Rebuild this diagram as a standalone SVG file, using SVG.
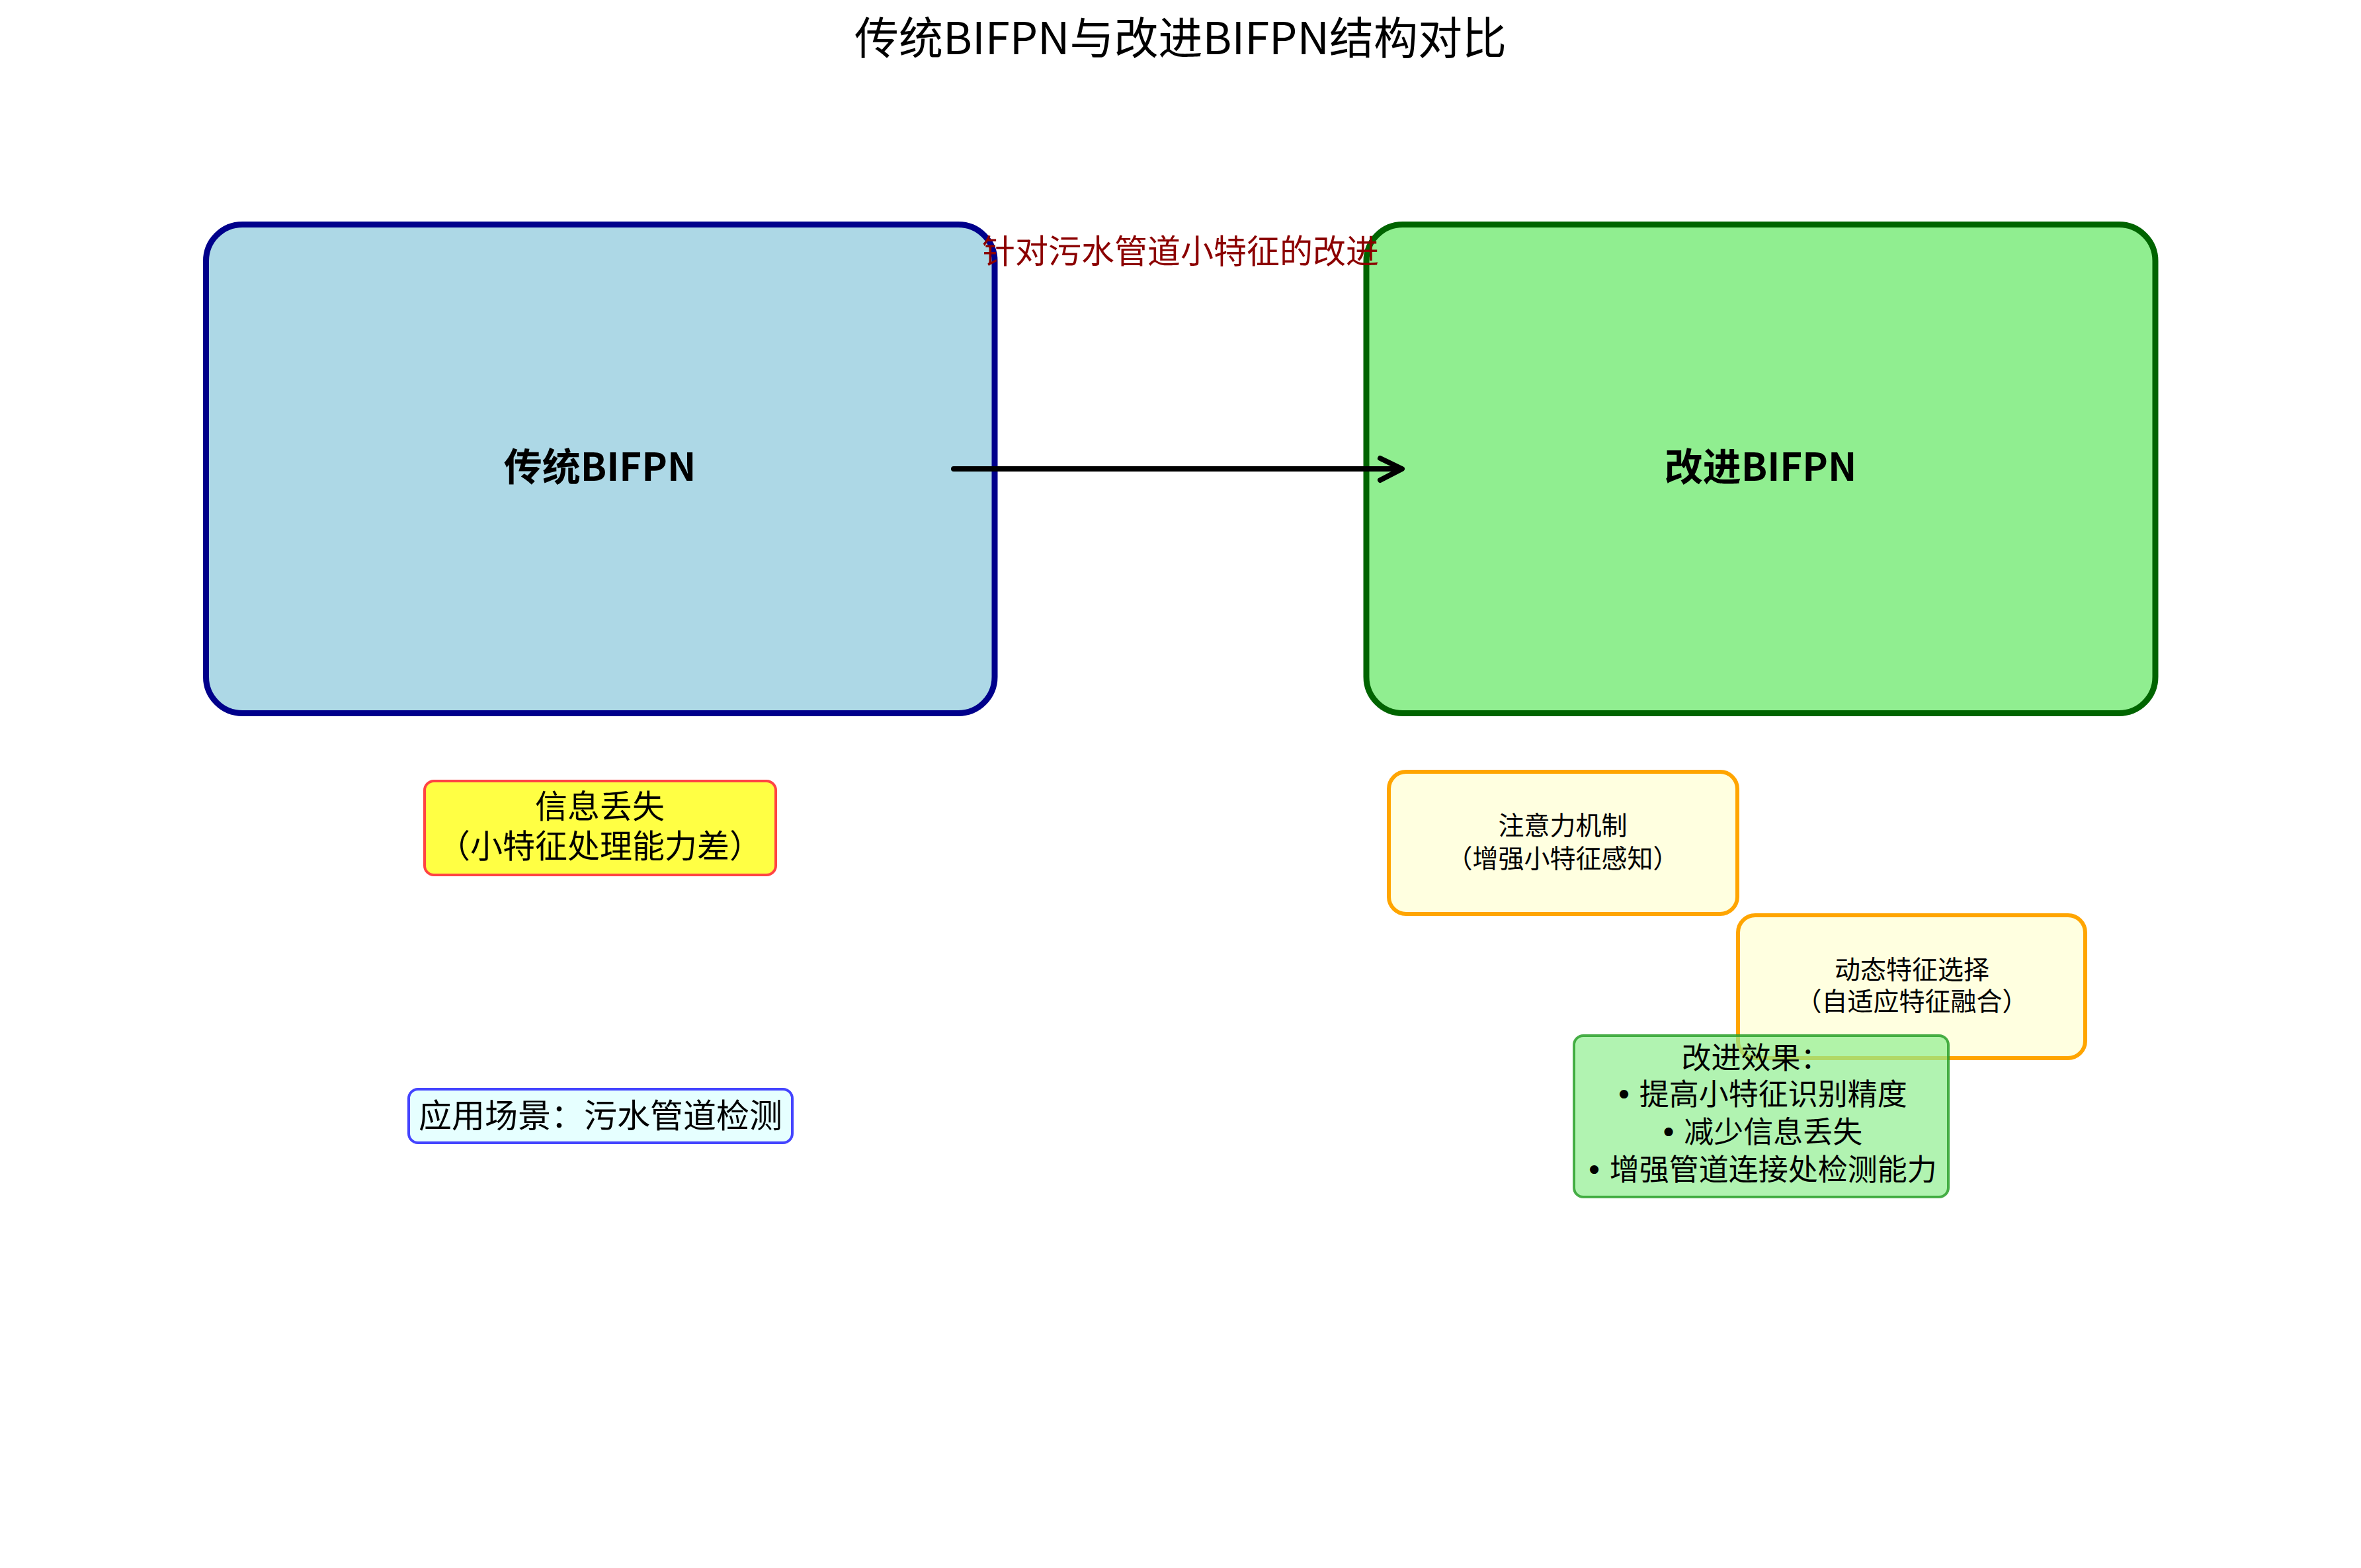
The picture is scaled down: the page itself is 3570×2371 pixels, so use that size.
<svg xmlns="http://www.w3.org/2000/svg" width="3570" height="2371" viewBox="0 0 3570 2371">
<style>
text { font-family: "Noto Sans CJK SC", "Noto Sans", sans-serif; text-anchor: middle; fill: #000; }
.title { font-size: 67px; }
.big { font-size: 58px; font-weight: bold; }
.red { font-size: 50px; fill: #8b0000; }
.t48 { font-size: 49px; }
.t50 { font-size: 50px; }
.t36 { font-size: 39px; }
.t45 { font-size: 45px; }
.bul { font-family: "DejaVu Sans", sans-serif; }
</style>
<rect width="3570" height="2371" fill="#ffffff"/>
<text class="title" x="1785" y="82">传统BIFPN与改进BIFPN结构对比</text>
<g id="node-traditional">
<rect x="311.5" y="339.5" width="1192.5" height="739" rx="55" fill="#add8e6" stroke="#00008b" stroke-width="9"/>
<text class="big" x="907" y="727">传统BIFPN</text>
</g>
<g id="node-improved">
<rect x="2066" y="339.5" width="1193" height="739" rx="55" fill="#90ee90" stroke="#006400" stroke-width="9"/>
<text class="big" x="2662" y="727">改进BIFPN</text>
</g>
<g id="connectors">
<line x1="1442" y1="709" x2="2118" y2="709" stroke="#000" stroke-width="8" stroke-linecap="round"/>
<polyline points="2087,693 2120,709 2087,726" fill="none" stroke="#000" stroke-width="8" stroke-linecap="round" stroke-linejoin="round"/>
</g>
<text class="red" x="1785" y="398">针对污水管道小特征的改进</text>
<g id="node-loss">
<rect x="642" y="1181" width="531" height="142" rx="14" fill="#ffff44" stroke="#ff4444" stroke-width="4"/>
<text class="t48" x="907" y="1237">信息丢失</text>
<text class="t48" x="907" y="1297">（小特征处理能力差）</text>
</g>
<g id="node-attention">
<rect x="2100" y="1167" width="527" height="215" rx="26" fill="#ffffe0" stroke="#ffa500" stroke-width="6"/>
<text class="t36" x="2363" y="1262">注意力机制</text>
<text class="t36" x="2363" y="1312">（增强小特征感知）</text>
</g>
<g id="node-dynamic">
<rect x="2628" y="1384" width="525" height="216" rx="26" fill="#ffffe0" stroke="#ffa500" stroke-width="6"/>
<text class="t36" x="2891" y="1480">动态特征选择</text>
<text class="t36" x="2891" y="1528">（自适应特征融合）</text>
</g>
<g id="node-effect">
<rect x="2380" y="1566" width="566" height="244" rx="14" fill="#90ee90" fill-opacity="0.7" stroke="#2ca02c" stroke-opacity="0.85" stroke-width="4"/>
<text class="t45" x="2655" y="1616">改进效果：</text>
<text class="t45" x="2663" y="1671"><tspan class="bul">•</tspan> 提高小特征识别精度</text>
<text class="t45" x="2663" y="1728"><tspan class="bul">•</tspan> 减少信息丢失</text>
<text class="t45" x="2663" y="1785"><tspan class="bul">•</tspan> 增强管道连接处检测能力</text>
</g>
<g id="node-scene">
<rect x="618" y="1647" width="580" height="81" rx="14" fill="#e6ffff" stroke="#4444ff" stroke-width="4"/>
<text class="t50" x="908" y="1705">应用场景：污水管道检测</text>
</g>
</svg>
